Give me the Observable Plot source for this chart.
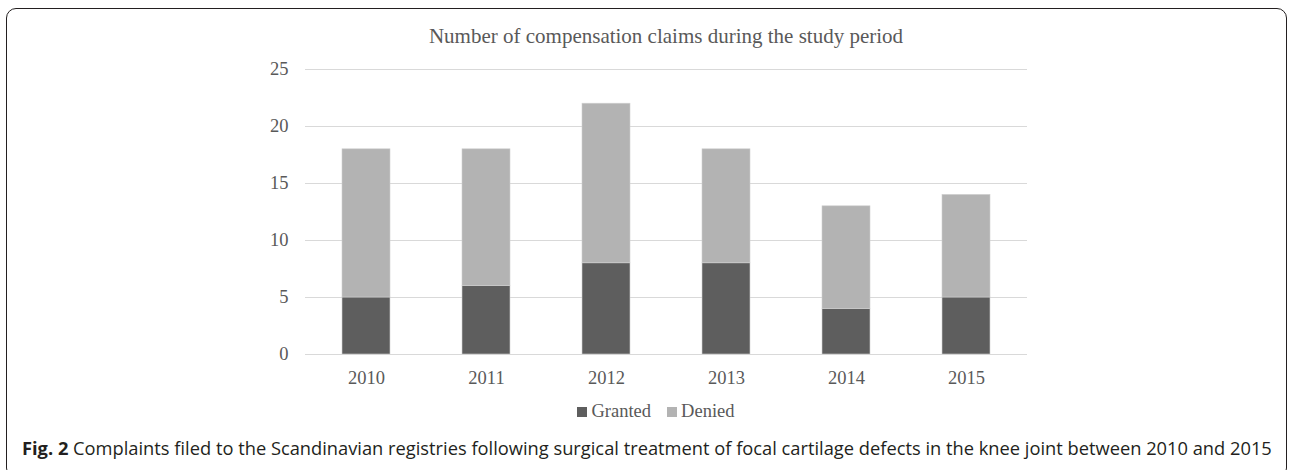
<!DOCTYPE html>
<html>
<head>
<meta charset="utf-8">
<script src="https://cdn.jsdelivr.net/npm/d3@7"></script>
<script src="https://cdn.jsdelivr.net/npm/@observablehq/plot@0.6"></script>
<style>
  html, body { margin: 0; padding: 0; background: #fff; width: 1290px; height: 470px; overflow: hidden; }
  #frame { position: absolute; left: 6px; top: 8px; width: 1281px; height: 470px; border: 1.5px solid #231f20; border-radius: 10px; box-sizing: border-box; }
  #title { position: absolute; left: 305px; width: 722px; top: 23px; text-align: center; font-family: "Liberation Serif", serif; font-size: 21px; line-height: 26px; color: #595959; }
  #chart { position: absolute; left: 0; top: 0; }
  #legend { position: absolute; left: 0; width: 1290px; top: 399px; display: flex; justify-content: center; gap: 16px; font-family: "Liberation Serif", serif; font-size: 18.5px; line-height: 24px; color: #595959; padding-left: 22px; box-sizing: border-box; }
  #legend span.sw { display: inline-block; width: 10px; height: 10px; margin-right: 4px; vertical-align: 0px; }
  #caption { position: absolute; left: 22px; top: 435px; font-family: "Open Sans", sans-serif; font-size: 18.3px; line-height: 26px; color: #231f20; white-space: nowrap; }
</style>
</head>
<body>
<div id="frame"></div>
<div id="chart"></div>
<div id="title">Number of compensation claims during the study period</div>
<div id="legend"></div>
<div id="caption"><b>Fig. 2</b> Complaints filed to the Scandinavian registries following surgical treatment of focal cartilage defects in the knee joint between 2010 and 2015</div>
<script>
const years = ["2010", "2011", "2012", "2013", "2014", "2015"];
const granted = [5, 6, 8, 8, 4, 5];
const denied = [13, 12, 14, 10, 9, 9];
const seriesNames = ["Granted", "Denied"];
const seriesColors = ["#5e5e5e", "#b3b3b3"];
const yTicks = [0, 5, 10, 15, 20, 25];

const rows = [];
years.forEach((y, i) => {
  rows.push({year: y, series: "Granted", value: granted[i]});
  rows.push({year: y, series: "Denied", value: denied[i]});
});

const plot = Plot.plot({
  width: 1290,
  height: 400,
  marginLeft: 305,
  marginRight: 263,
  marginTop: 69,
  marginBottom: 46,
  style: {fontFamily: "Liberation Serif, serif", fontSize: "18.5px", color: "#595959", background: "transparent"},
  x: {domain: years, paddingInner: 0.6, paddingOuter: 0.3, label: null},
  y: {domain: [0, 25], label: null},
  color: {domain: seriesNames, range: seriesColors},
  marks: [
    Plot.ruleY(yTicks, {stroke: "#d9d9d9", strokeWidth: 1.2}),
    Plot.barY(rows, Plot.stackY({x: "year", y: "value", fill: "series", order: seriesNames, stroke: "#cfcfcf", strokeWidth: 0.6})),
    Plot.axisY({ticks: yTicks, tickSize: 0, tickPadding: 17, label: null, fontSize: 18.5}),
    Plot.axisX({tickSize: 0, tickPadding: 16, label: null, fontSize: 18.5})
  ]
});
document.getElementById("chart").appendChild(plot);

const legend = document.getElementById("legend");
seriesNames.forEach((n, i) => {
  const item = document.createElement("div");
  item.innerHTML = `<span class="sw" style="background:${seriesColors[i]}"></span>${n}`;
  legend.appendChild(item);
});
</script>
</body>
</html>
